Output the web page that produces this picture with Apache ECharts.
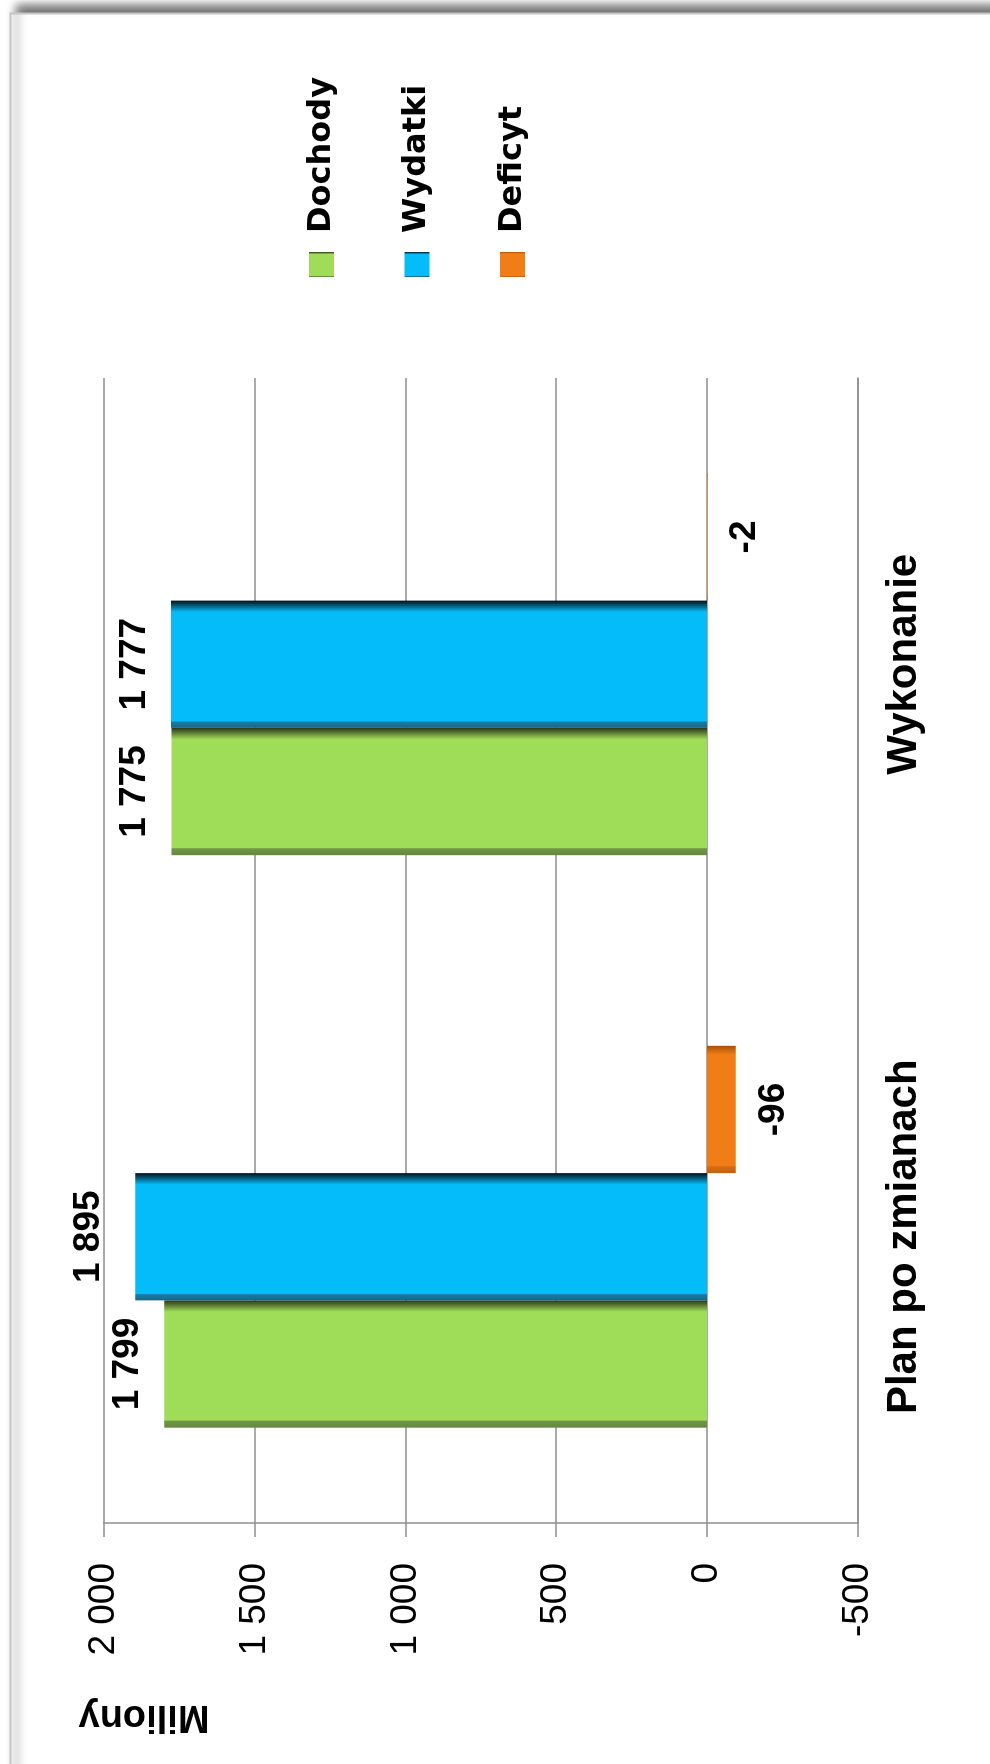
<!DOCTYPE html>
<html>
<head>
<meta charset="utf-8">
<script src="https://cdn.jsdelivr.net/npm/echarts@6/dist/echarts.min.js"></script>
<style>
html,body{margin:0;padding:0;background:#fff;overflow:hidden;width:990px;height:1764px;}
#wrap{position:absolute;left:0;top:0;width:1764px;height:990px;transform-origin:0 0;transform:translateY(1764px) rotate(-90deg);}
</style>
</head>
<body>
<div id="wrap"></div>
<script>
// ---- data ----
const categories = ['Plan po zmianach', 'Wykonanie'];
const seriesNames = ['Dochody', 'Wydatki', 'Deficyt'];
const dochody = [1799, 1775];
const wydatki = [1895, 1777];
const deficyt = [-96, -2];
const axisMin = -500, axisMax = 2000, axisStep = 500;
const axisTitle = 'Miliony';

// ---- helpers ----
function fmt(v) {
  const s = Math.abs(v).toString().replace(/\B(?=(\d{3})+(?!\d))/g, ' ');
  return (v < 0 ? '-' : '') + s;
}
const G = echarts.graphic.LinearGradient;
const fills = {
  Dochody: new G(0, 0, 1, 0, [
    {offset: 0, color: '#66873F'}, {offset: 0.05, color: '#6F9547'},
    {offset: 0.06, color: '#9FDD58'}, {offset: 0.91, color: '#9FDD58'},
    {offset: 0.96, color: '#5E7D35'}, {offset: 1, color: '#2A3717'}]),
  Wydatki: new G(0, 0, 1, 0, [
    {offset: 0, color: '#16678A'}, {offset: 0.045, color: '#1B7BA4'},
    {offset: 0.055, color: '#05BCFA'}, {offset: 0.91, color: '#05BCFA'},
    {offset: 0.96, color: '#045B7B'}, {offset: 1, color: '#02121A'}]),
  Deficyt: new G(0, 0, 1, 0, [
    {offset: 0, color: '#C2600F'}, {offset: 0.05, color: '#D86C12'},
    {offset: 0.06, color: '#F07D16'}, {offset: 0.93, color: '#F07D16'},
    {offset: 1, color: '#A8520C'}])
};
const labelDistance = {Wydatki: [28, 18]};
const values = {Dochody: dochody, Wydatki: wydatki, Deficyt: deficyt};

const labelFont = {fontFamily: 'Liberation Sans', fontWeight: 'bold', fontSize: 37, color: '#000'};
const gridColor = '#8E8E8E';

const series = seriesNames.map(name => ({
  name: name,
  type: 'bar',
  barGap: '0%',
  barCategoryGap: '33.3%',
  itemStyle: {color: fills[name]},
  label: Object.assign({show: true, position: 'top', distance: 18,
    formatter: p => fmt(p.value)}, labelFont),
  data: values[name].map((v, i) => {
    const item = {value: v, label: {}};
    if (v < 0) { item.label.position = 'bottom'; item.label.distance = 19; }
    if (labelDistance[name]) item.label.distance = labelDistance[name][i];
    return item;
  })
}));

const chart = echarts.init(document.getElementById('wrap'), null, {width: 1764, height: 990});
chart.setOption({
  animation: false,
  backgroundColor: '#fff',
  graphic: [
    {type: 'rect', z: -100, silent: true,
     shape: {x: -30, y: 10.5, width: 1780.5, height: 1020},
     style: {fill: '#fff', stroke: '#C6C6C6', lineWidth: 2,
             shadowBlur: 9, shadowColor: 'rgba(0,0,0,0.55)', shadowOffsetX: 7, shadowOffsetY: 6}},
    {type: 'text', x: 48, y: 144, rotation: Math.PI / 2, z: 10,
     style: {text: axisTitle, fontFamily: 'Liberation Sans', fontWeight: 'bold', fontSize: 38,
             fill: '#000', align: 'center', verticalAlign: 'middle'}}
  ],
  legend: {
    orient: 'vertical', left: 1482, top: 296.5,
    itemWidth: 25, itemHeight: 25, itemGap: 55.5, icon: 'rect',
    data: seriesNames,
    textStyle: {fontFamily: 'DejaVu Sans', fontWeight: 'bold', fontSize: 32, color: '#000',
                lineHeight: 40, padding: [0, 0, 0, 14]}
  },
  grid: {left: 241, right: 378, top: 103.7, bottom: 132.3, containLabel: false},
  xAxis: {
    type: 'category', data: categories,
    axisLine: {show: true, onZero: false, lineStyle: {color: gridColor, width: 1.5}},
    axisTick: {show: false},
    axisLabel: {fontFamily: 'Liberation Sans', fontWeight: 'bold', fontSize: 42, color: '#000', margin: 26}
  },
  yAxis: {
    type: 'value', min: axisMin, max: axisMax, interval: axisStep,
    axisLine: {show: true, lineStyle: {color: gridColor, width: 1.5}},
    axisTick: {show: true, length: 14, lineStyle: {color: gridColor, width: 1.5}},
    splitLine: {show: true, lineStyle: {color: gridColor, width: 1.5}},
    axisLabel: {fontFamily: 'Liberation Sans', fontSize: 37, color: '#000', margin: 40,
                formatter: v => fmt(v)}
  },
  series: series
});
</script>
</body>
</html>
